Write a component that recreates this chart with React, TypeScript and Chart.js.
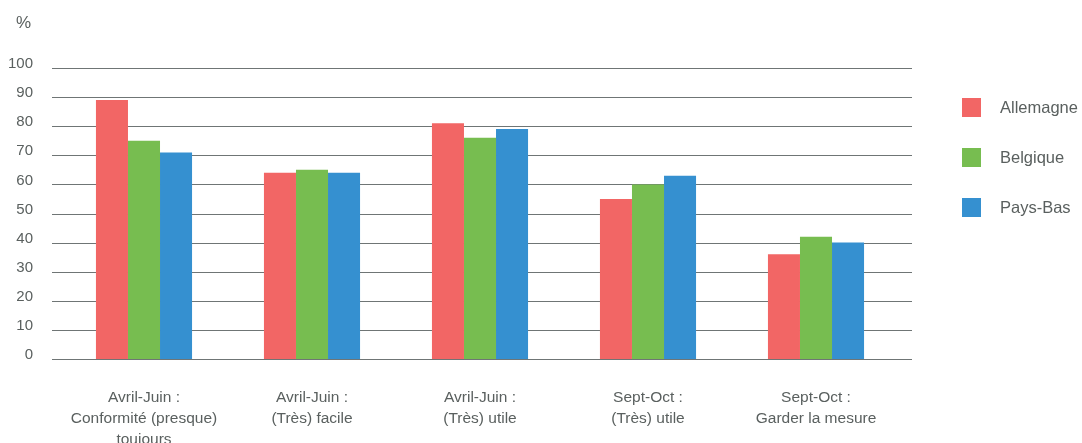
import React, { useEffect, useRef } from "react";
import { Chart, registerables } from "chart.js";

Chart.register(...registerables);

const categories: string[][] = [
  ["Avril-Juin :", "Conformité (presque)", "toujours"],
  ["Avril-Juin :", "(Très) facile"],
  ["Avril-Juin :", "(Très) utile"],
  ["Sept-Oct :", "(Très) utile"],
  ["Sept-Oct :", "Garder la mesure"],
];
const seriesNames = ["Allemagne", "Belgique", "Pays-Bas"];
const allemagne = [89, 64, 81, 55, 36];
const belgique = [75, 65, 76, 60, 42];
const paysBas = [71, 64, 79, 63, 40];
const colors = ["#F26665", "#77BD50", "#3590D0"];
const yTicks = [0, 10, 20, 30, 40, 50, 60, 70, 80, 90, 100];
const unitLabel = "%";

const FONT = "'Liberation Sans', Arial, sans-serif";
const TEXT = "#5a605f";

const extrasPlugin = {
  id: "extras",
  beforeDatasetsDraw(chart: any) {
    const { ctx, chartArea, scales } = chart;
    const y = scales.y;
    ctx.save();
    ctx.strokeStyle = "#6f7575";
    ctx.lineWidth = 1;
    yTicks.forEach((v) => {
      const py = Math.round(y.getPixelForValue(v)) + 0.5;
      ctx.beginPath();
      ctx.moveTo(chartArea.left - 8, py);
      ctx.lineTo(chartArea.right + 12, py);
      ctx.stroke();
    });
    ctx.restore();
  },
  afterDraw(chart: any) {
    const { ctx } = chart;
    ctx.save();
    ctx.fillStyle = TEXT;
    ctx.textBaseline = "middle";
    ctx.textAlign = "left";
    ctx.font = `17px ${FONT}`;
    ctx.fillText(unitLabel, 16, 23);
    ctx.font = `16.5px ${FONT}`;
    chart.data.datasets.forEach((ds: any, i: number) => {
      const top = 98 + i * 50;
      ctx.fillStyle = ds.backgroundColor;
      ctx.fillRect(962, top, 19, 19);
      ctx.fillStyle = TEXT;
      ctx.fillText(ds.label, 1000, top + 10);
    });
    ctx.restore();
  },
};

export default function App() {
  const ref = useRef<HTMLCanvasElement>(null);
  useEffect(() => {
    document.body.style.margin = "0";
    const data = [allemagne, belgique, paysBas];
    const chart = new Chart(ref.current!, {
      type: "bar",
      data: {
        labels: categories,
        datasets: seriesNames.map((n, i) => ({
          label: n,
          data: data[i],
          backgroundColor: colors[i],
          borderWidth: 0,
          barPercentage: 1,
          categoryPercentage: 0.572,
        })),
      },
      options: {
        animation: false,
        responsive: false,
        layout: { padding: { top: 68, right: 182, left: 0, bottom: 0 } },
        plugins: { legend: { display: false }, tooltip: { enabled: false } },
        scales: {
          x: {
            grid: { display: false },
            border: { display: false },
            ticks: {
              color: TEXT,
              font: { family: FONT, size: 15.5, lineHeight: 1.36 },
              padding: 20,
              maxRotation: 0,
              autoSkip: false,
            },
            afterFit: (s: any) => {
              s.height = 84;
            },
          },
          y: {
            min: 0,
            max: 100,
            afterBuildTicks: (s: any) => {
              s.ticks = yTicks.map((v) => ({ value: v }));
            },
            grid: { display: false, drawTicks: false },
            border: { display: false },
            ticks: {
              color: TEXT,
              font: { family: FONT, size: 15 },
              padding: 27,
              labelOffset: -4,
            },
            afterFit: (s: any) => {
              s.width = 60;
            },
          },
        },
      },
      plugins: [extrasPlugin],
    });
    return () => chart.destroy();
  }, []);
  return <canvas ref={ref} width={1082} height={443} style={{ display: "block" }} />;
}
